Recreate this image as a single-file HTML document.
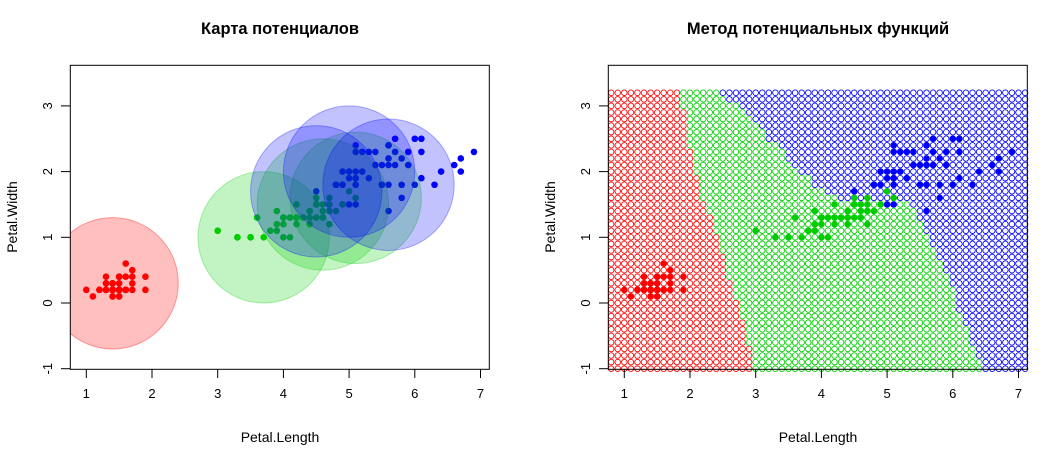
<!DOCTYPE html>
<html><head><meta charset="utf-8"><style>
html,body{margin:0;padding:0;background:#fff;}
svg text{font-family:"Liberation Sans",Arial,sans-serif;}
</style></head><body>
<svg id="c" width="1052" height="450" xmlns="http://www.w3.org/2000/svg">
<text x="280" y="34" text-anchor="middle" font-size="16.5" font-weight="bold">Карта потенциалов</text>
<text x="818" y="34" text-anchor="middle" font-size="16.5" font-weight="bold">Метод потенциальных функций</text>
<text x="280" y="442" text-anchor="middle" font-size="14">Petal.Length</text>
<text x="818" y="442" text-anchor="middle" font-size="14">Petal.Length</text>
<text transform="translate(17,217) rotate(-90)" text-anchor="middle" font-size="14">Petal.Width</text>
<text transform="translate(555,217) rotate(-90)" text-anchor="middle" font-size="14">Petal.Width</text>
</svg>
<script>
const NS="http://www.w3.org/2000/svg";
const svg=document.getElementById('c');
// data
const setosaL=[1.4,1.4,1.3,1.5,1.4,1.7,1.4,1.5,1.4,1.5,1.5,1.6,1.4,1.1,1.2,1.5,1.3,1.4,1.7,1.5,1.7,1.5,1.0,1.7,1.9,1.6,1.6,1.5,1.4,1.6,1.6,1.5,1.5,1.4,1.5,1.2,1.3,1.4,1.3,1.5,1.3,1.3,1.3,1.6,1.9,1.4,1.6,1.4,1.5,1.4];
const setosaW=[.2,.2,.2,.2,.2,.4,.3,.2,.2,.1,.2,.2,.1,.1,.2,.4,.4,.3,.3,.3,.2,.4,.2,.5,.2,.2,.4,.2,.2,.2,.2,.4,.1,.2,.2,.2,.2,.1,.2,.2,.3,.3,.2,.6,.4,.3,.2,.2,.2,.2];
const versL=[4.7,4.5,4.9,4.0,4.6,4.5,4.7,3.3,4.6,3.9,3.5,4.2,4.0,4.7,3.6,4.4,4.5,4.1,4.5,3.9,4.8,4.0,4.9,4.7,4.3,4.4,4.8,5.0,4.5,3.5,3.8,3.7,3.9,5.1,4.5,4.5,4.7,4.4,4.1,4.0,4.4,4.6,4.0,3.3,4.2,4.2,4.2,4.3,3.0,4.1];
const versW=[1.4,1.5,1.5,1.3,1.5,1.3,1.6,1.0,1.3,1.4,1.0,1.5,1.0,1.4,1.3,1.4,1.5,1.0,1.5,1.1,1.8,1.3,1.5,1.2,1.3,1.4,1.4,1.7,1.5,1.0,1.1,1.0,1.2,1.6,1.5,1.6,1.5,1.3,1.3,1.3,1.2,1.4,1.2,1.0,1.3,1.2,1.3,1.3,1.1,1.3];
const virgL=[6.0,5.1,5.9,5.6,5.8,6.6,4.5,6.3,5.8,6.1,5.1,5.3,5.5,5.0,5.1,5.3,5.5,6.7,6.9,5.0,5.7,4.9,6.7,4.9,5.7,6.0,4.8,4.9,5.6,5.8,6.1,6.4,5.6,5.1,5.6,6.1,5.6,5.5,4.8,5.4,5.6,5.1,5.1,5.9,5.7,5.2,5.0,5.2,5.4,5.1];
const virgW=[2.5,1.9,2.1,1.8,2.2,2.1,1.7,1.8,1.8,2.5,2.0,1.9,2.1,2.0,2.4,2.3,1.8,2.2,2.3,1.5,2.3,2.0,2.0,1.8,2.1,1.8,1.8,1.8,2.1,1.6,1.9,2.0,2.2,1.5,1.4,2.3,2.4,1.8,1.8,2.1,2.4,2.3,1.9,2.3,2.5,2.3,1.9,2.0,2.3,1.8];
const potX=[1.4,3.7,4.6,5.1,4.5,5.0,5.6];
const potY=[0.3,1.0,1.5,1.6,1.7,2.0,1.8];
const potCls=[0,1,1,1,2,2,2];
const xTicks=[1,2,3,4,5,6,7];
const yTicks=[-1,0,1,2,3];
// class boundaries of the right map by y
const edgeY=[3.2,2.9,2.5,2.2,1.8,1.6,1.5,1.2,0.9,0.4,-0.1,-0.6,-1.0];
const redEdgeX=[1.85,1.92,1.95,2.05,2.15,2.2,2.25,2.35,2.45,2.6,2.75,2.9,3.0];
const blueEdgeX=[2.45,2.85,3.2,3.5,3.9,4.3,5.35,5.55,5.7,5.95,6.1,6.3,6.45];
const colors=['#ff0000','#00cd00','#0000ff'];
const fills=['rgba(255,0,0,0.25)','rgba(0,205,0,0.24)','rgba(0,0,255,0.24)'];
const strokes=['rgba(255,0,0,0.35)','rgba(0,205,0,0.3)','rgba(0,0,255,0.3)'];
const U=65.7;
function sx(off,v){return off+86.3+(v-1)*U;}
function sy(v){return 303+(-v)*U;}
function mk(tag,at){const e=document.createElementNS(NS,tag);for(const k in at)e.setAttribute(k,at[k]);return e;}
function interp(arrX,y){for(let i=0;i<edgeY.length-1;i++){if(y<=edgeY[i]&&y>=edgeY[i+1]){const t=(edgeY[i]-y)/(edgeY[i]-edgeY[i+1]);return arrX[i]+t*(arrX[i+1]-arrX[i]);}}return y>edgeY[0]?arrX[0]:arrX[arrX.length-1];}
function axes(off,g){
  const fr=mk('rect',{x:70.3+off,y:65.3,width:419,height:304,fill:'none',stroke:'#000','stroke-width':1});
  
  
  g.appendChild(fr);
  xTicks.forEach(t=>{const x=sx(off,t);
    const l=mk('line',{x1:x,x2:x,y1:369.3,y2:378,stroke:'#000'});
    
    
    g.appendChild(l);
    const tx=mk('text',{x:x,y:398,'text-anchor':'middle','font-size':13});tx.textContent=t;
    
    
    g.appendChild(tx);});
  yTicks.forEach(t=>{const y=sy(t);
    const l=mk('line',{x1:61+off,x2:70.3+off,y1:y,y2:y,stroke:'#000'});
    
    
    g.appendChild(l);
    const tx=mk('text',{transform:`translate(${off+52},${y}) rotate(-90)`,'text-anchor':'middle','font-size':13});tx.textContent=t;
    
    
    g.appendChild(tx);});
}
function points(off,g){
  [[setosaL,setosaW,0],[versL,versW,1],[virgL,virgW,2]].forEach(([L,W,c])=>{
    L.forEach((v,i)=>{const p=mk('circle',{cx:sx(off,v),cy:sy(W[i]),r:3.3,fill:colors[c]});
      
      
      g.appendChild(p);});});
}
// left
const gl=mk('g',{});svg.appendChild(gl);
const cp=mk('clipPath',{id:'clipL'});cp.appendChild(mk('rect',{x:70.3,y:65.3,width:419,height:304}));svg.appendChild(cp);
const gpl=mk('g',{'clip-path':'url(#clipL)'});gl.appendChild(gpl);
points(0,gpl);
potX.forEach((v,i)=>{const c=mk('circle',{cx:sx(0,v),cy:sy(potY[i]),r:U,fill:fills[potCls[i]],stroke:strokes[potCls[i]],'stroke-width':1});
  
  
  gpl.appendChild(c);});
axes(0,gl);
// right
const OFF=538;
const gr=mk('g',{});svg.appendChild(gr);
const gm=mk('g',{fill:'none','stroke-width':0.85});gr.appendChild(gm);
for(let yi=32;yi>=-10;yi--){const y=yi/10;
  const re=interp(redEdgeX,y),be=interp(blueEdgeX,y);
  for(let xi=8;xi<=71;xi++){const x=xi/10;
    const c=x<re?0:(x<be?1:2);
    const m=mk('circle',{cx:sx(OFF,x),cy:sy(y),r:2.8,stroke:colors[c]});
    
    
    gm.appendChild(m);}}
points(OFF,gr);
axes(OFF,gr);
</script>
</body></html>
